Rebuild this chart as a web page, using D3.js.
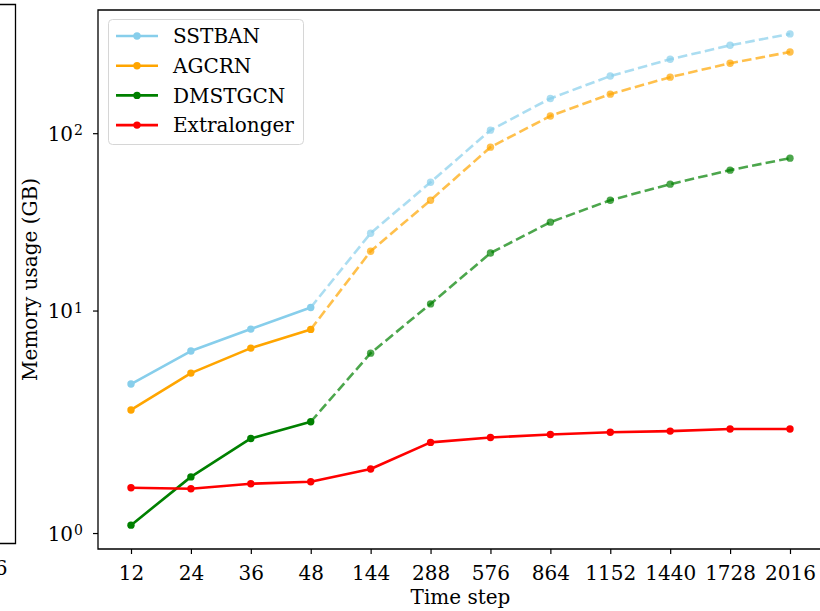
<!DOCTYPE html>
<html><head><meta charset="utf-8">
<script src="https://cdn.jsdelivr.net/npm/d3@7"></script>
<style>
body{margin:0;background:#fff}
svg{display:block}
text{font-family:"DejaVu Serif",serif;fill:#000}
</style>
</head><body>
<svg id="chart" width="820" height="611"></svg>
<script>
// ---- data ----
const timeSteps = ["12","24","36","48","144","288","576","864","1152","1440","1728","2016"];
const seriesNames = ["SSTBAN","AGCRN","DMSTGCN","Extralonger"];
const seriesColors = ["#87CEEB","#FFA500","#008000","#FF0000"];
const sstban      = [3.85, 5.91, 7.86, 10.4, 27.3, 52.9, 104, 157, 210, 261, 313, 363];
const agcrn       = [2.75, 4.44, 6.14, 7.83, 21.6, 41.9, 83.4, 125, 166, 207, 248, 287];
const dmstgcn     = [1.08, 1.57, 1.96, 2.36, 5.75, 10.9, 21.1, 31.5, 41.9, 51.6, 61.9, 72.3];
const extralonger = [1.46, 1.45, 1.50, 1.52, 1.65, 1.92, 1.97, 2.00, 2.06, 2.09, 2.15, 2.15];
const solidCount  = [4, 4, 4, 12];   // points drawn solid before the dashed continuation
const yTickValues = [1, 10, 100];
const yDomain = [0.838, 495];

const allSeries = [sstban, agcrn, dmstgcn, extralonger];

// ---- layout ----
const svg = d3.select("#chart");
const pLeft = 98, pRight = 823, pTop = 10, pBottom = 549;
const FS = 20;

// matplotlib-like symlog transform (linthresh=2, linscale=1, base=10)
const LT = 2, C = 1 / (1 - 1 / 10);
function symlogT(v) {
  const a = Math.abs(v);
  const t = a <= LT ? a * C : LT * (C + Math.log10(a / LT));
  return Math.sign(v) * t;
}

const x = d3.scalePoint().domain(timeSteps).range([131, 790]).padding(0);
const yLin = d3.scaleLinear().domain(yDomain.map(symlogT)).range([pBottom, pTop]);
const y = v => yLin(symlogT(v));

svg.append("defs").append("clipPath").attr("id", "clip")
  .append("rect").attr("x", pLeft).attr("y", pTop).attr("width", pRight - pLeft).attr("height", pBottom - pTop);

// ---- partial neighbour subplot on the left ----
svg.append("path").attr("d", "M0,4.5H15.5V543.5H0").attr("fill", "none")
  .attr("stroke", "#000").attr("stroke-width", 1.3);
svg.append("text").attr("x", 7.5).attr("y", 575).attr("text-anchor", "end")
  .attr("font-size", FS).text("2016");

// ---- lines ----
const g = svg.append("g").attr("clip-path", "url(#clip)");
const line = d3.line().x(d => x(d.t)).y(d => y(d.v));

allSeries.forEach((vals, i) => {
  const pts = vals.map((v, j) => ({t: timeSteps[j], v}));
  const n = solidCount[i];
  const solid = pts.slice(0, n);
  const dashed = pts.slice(n - 1);
  const col = seriesColors[i];
  g.append("path").datum(solid).attr("d", line).attr("fill", "none")
    .attr("stroke", col).attr("stroke-width", 2.6).attr("stroke-linejoin", "round");
  g.selectAll(null).data(solid).enter().append("circle")
    .attr("cx", d => x(d.t)).attr("cy", d => y(d.v)).attr("r", 3.7).attr("fill", col);
  if (dashed.length > 1) {
    g.append("path").datum(dashed).attr("d", line).attr("fill", "none")
      .attr("stroke", col).attr("stroke-width", 2.6).attr("stroke-opacity", 0.7)
      .attr("stroke-dasharray", "9.6,4.2");
    g.selectAll(null).data(dashed.slice(1)).enter().append("circle")
      .attr("cx", d => x(d.t)).attr("cy", d => y(d.v)).attr("r", 3.7)
      .attr("fill", col).attr("fill-opacity", 0.7);
  }
});

// ---- axes ----
const xAxis = d3.axisBottom(x).tickSize(5);
const xg = svg.append("g").attr("transform", `translate(0,${pBottom})`).call(xAxis);
xg.select(".domain").remove();
xg.selectAll("line").attr("stroke", "#000").attr("stroke-width", 1.2);
xg.selectAll("text").attr("font-size", FS).attr("font-family", "DejaVu Serif")
  .attr("fill", "#000").attr("y", 30.5).attr("dy", null);

const yAxis = d3.axisLeft(yLin).tickValues(yTickValues.map(symlogT)).tickSize(5).tickFormat("");
const yg = svg.append("g").attr("transform", `translate(${pLeft},0)`).call(yAxis);
yg.select(".domain").remove();
yg.selectAll("line").attr("stroke", "#000").attr("stroke-width", 1.2);
yTickValues.forEach(v => {
  const exp = Math.round(Math.log10(v));
  const t = svg.append("text").attr("x", 83).attr("y", y(v) + 7.7)
    .attr("text-anchor", "end").attr("font-size", FS);
  t.append("tspan").text("10");
  t.append("tspan").attr("font-size", 14).attr("dx", 1).attr("dy", -5.5).text(String(exp));
});

// spines
svg.append("path").attr("d", `M${pLeft},${pTop}V${pBottom}H${pRight}M${pLeft},${pTop}H${pRight}V${pBottom}`)
  .attr("fill", "none").attr("stroke", "#000").attr("stroke-width", 1.3)
  .attr("stroke-linecap", "square");

// axis labels
svg.append("text").attr("x", (pLeft + pRight) / 2).attr("y", 604).attr("text-anchor", "middle")
  .attr("font-size", FS).text("Time step");
svg.append("text").attr("transform", `translate(37,${(pTop + pBottom) / 2}) rotate(-90)`)
  .attr("text-anchor", "middle").attr("font-size", FS).text("Memory usage (GB)");

// ---- legend ----
const lg = svg.append("g");
lg.append("rect").attr("x", 108.5).attr("y", 19.5).attr("width", 195).attr("height", 125)
  .attr("rx", 4).attr("fill", "#fff").attr("fill-opacity", 0.8)
  .attr("stroke", "#d6d6d6").attr("stroke-width", 1);
seriesNames.forEach((name, i) => {
  const cy = 36 + i * 29.7;
  lg.append("line").attr("x1", 116).attr("x2", 158).attr("y1", cy).attr("y2", cy)
    .attr("stroke", seriesColors[i]).attr("stroke-width", 2.6);
  lg.append("circle").attr("cx", 137).attr("cy", cy).attr("r", 3.7).attr("fill", seriesColors[i]);
  lg.append("text").attr("x", 173).attr("y", cy + 7.3).attr("font-size", FS).text(name);
});
</script>
</body></html>
